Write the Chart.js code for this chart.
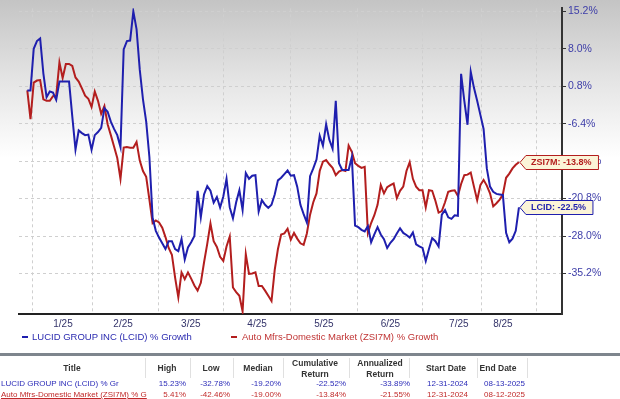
<!DOCTYPE html>
<html>
<head>
<meta charset="utf-8">
<script src="https://cdn.jsdelivr.net/npm/chart.js@4.4.1/dist/chart.umd.min.js"></script>
<style>
  body { margin: 0; width: 620px; height: 399px; overflow: hidden; background: #fff; position: relative;
         font-family: Arial, "Liberation Sans", sans-serif; }
  #wrap { position: absolute; left: 0; top: 0; width: 620px; height: 332px; }
  .t { position: absolute; white-space: nowrap; line-height: 1; }
  .sep { position: absolute; background: #dcdcdc; width: 1px; }
</style>
</head>
<body>
<div id="wrap"><canvas id="chart" width="620" height="332"></canvas></div>
<div id="legend"></div>
<div id="table"></div>

<script>
/* ───── data (% growth since 12-31-2024, one value per trading day) ───── */
var lcidVals = [
  0.0, 0.0, 8.0, 9.5, 10.0, 3.3, -1.3, -0.2, -0.4, -1.8,
  1.7, 1.7, 1.7, 1.7, -5.0, -11.4, -7.7, -8.2, -8.6, -8.5,
  -11.4, -8.6, -8.0, -7.2, -3.4, -4.1, -6.0, -7.4, -8.6, -10.9,
  7.9, 9.5, 9.6, 15.2, 11.8, 4.0, -1.7, -6.0, -12.8, -24.5,
  -27.0, -28.3, -29.4, -30.5, -29.0, -29.0, -30.5, -30.9, -28.6, -32.5,
  -30.2, -29.2, -28.0, -19.3, -24.4, -20.0, -18.4, -19.3, -21.6, -20.5,
  -22.5, -20.4, -17.0, -22.5, -24.6, -21.5, -19.2, -23.0, -15.9, -17.0,
  -16.4, -16.3, -23.3, -21.1, -22.0, -22.6, -22.0, -20.0, -17.3, -16.8,
  -16.1, -15.4, -16.4, -16.3, -18.5, -22.0, -23.8, -25.4, -16.5, -15.0,
  -13.3, -8.7, -10.6, -6.5, -9.5, -11.2, -2.0, -14.0, -15.3, -15.3,
  -15.3, -12.8, -26.0, -26.3, -26.8, -27.1, -26.1, -29.2, -27.7, -26.3,
  -27.7, -28.6, -30.3, -29.3, -28.6, -27.5, -26.5, -27.4, -27.8, -28.3,
  -27.3, -29.6, -30.0, -30.3, -32.8, -30.5, -28.4, -29.0, -30.0, -23.9,
  -23.0, -24.4, -24.7, -24.0, -24.1, 3.2, -2.0, -6.6, 3.6, 0.5,
  -2.0, -4.7, -7.4, -15.0, -18.5, -19.5, -19.9, -20.0, -20.1, -27.4,
  -29.2, -28.5, -27.0, -22.5
];
var zsiVals = [
  0.0, -5.5, 1.5, 1.9, 2.0, -1.7, -2.0, -2.0, -1.1, -1.0,
  5.4, 2.4, 5.1, 5.1, 4.7, 2.5, 1.7, 0.4, -1.0, -1.6,
  -3.2, -0.2, -2.0, -4.5, -3.0, -6.5, -8.6, -10.8, -13.0, -17.0,
  -11.0, -10.9, -11.0, -11.0, -9.9, -13.5, -15.5, -16.6, -21.0, -25.5,
  -25.0, -25.4, -26.4, -28.2, -30.3, -31.6, -36.0, -39.8, -35.0, -36.3,
  -35.0, -36.2, -37.5, -38.5, -37.0, -33.1, -29.5, -25.6, -29.0, -30.1,
  -32.0, -32.8, -30.0, -28.1, -37.9, -38.8, -39.5, -42.5, -31.5, -35.3,
  -35.2, -35.0, -37.6, -37.6, -38.5, -39.5, -40.5, -34.5, -30.5, -27.7,
  -27.5, -26.6, -28.7, -27.4, -28.5, -29.4, -29.7, -27.5, -23.9, -21.5,
  -19.8, -15.5, -13.7, -13.4, -14.2, -14.9, -16.3, -15.6, -15.3, -15.5,
  -10.6, -11.8, -14.0, -14.5, -14.9, -14.7, -27.4, -25.5, -24.0, -22.0,
  -18.2, -19.8, -18.6, -18.2, -17.9, -20.7, -19.3, -18.5, -15.5, -13.8,
  -17.0, -18.5, -19.2, -19.2, -22.5, -19.2, -19.3, -21.2, -23.5, -23.2,
  -21.5, -19.5, -19.3, -19.2, -20.3, -18.0, -16.3, -16.2, -15.8, -18.5,
  -21.1, -18.2, -17.2, -18.3, -19.8, -22.3, -21.7, -21.0, -20.0, -16.8,
  -16.0, -15.0, -14.3, -13.8
];

// x axis: month labels (placed mid-month, in trading-day units) and grid positions
var monthLabels = ['1/25', '2/25', '3/25', '4/25', '5/25', '6/25', '7/25', '8/25'];
var monthLabelPos = [11.1, 29.8, 50.9, 71.5, 92.3, 113.0, 134.3, 148.0];
var monthGridPos = [1.5, 20.4, 40.7, 61.2, 82.0, 102.9, 122.9, 141.5, 158.6];
var yTicks = [-35.2, -28.0, -20.8, -13.6, -6.4, 0.8, 8.0, 15.2];

// summary table
var tableHead = ['Title', 'High', 'Low', 'Median', 'Cumulative|Return', 'Annualized|Return', 'Start Date', 'End Date'];
var lcidRow = ['LUCID GROUP INC (LCID) % Gr', '15.23%', '-32.78%', '-19.20%', '-22.52%', '-33.89%', '12-31-2024', '08-13-2025'];
var zsiRow = ['Auto Mfrs-Domestic Market (ZSI7M) % G', '5.41%', '-42.46%', '-19.00%', '-13.84%', '-21.55%', '12-31-2024', '08-12-2025'];

var BLUE = '#1f1fae';
var RED = '#b31e1e';

function toPoints(vals) {
  return vals.map(function (v, i) { return { x: i, y: v }; });
}

/* ───── plugins ───── */
var bgPlugin = {
  id: 'bg',
  beforeDraw: function (chart) {
    var ctx = chart.ctx;
    var g = ctx.createLinearGradient(0, 0, 0, 158);
    g.addColorStop(0, '#c4c4c4');
    g.addColorStop(0.5, '#e4e4e4');
    g.addColorStop(1, '#ffffff');
    ctx.save();
    ctx.fillStyle = g;
    ctx.fillRect(0, 0, chart.width, chart.height);
    ctx.restore();
  }
};

var tagPlugin = {
  id: 'tags',
  afterDraw: function (chart) {
    var ctx = chart.ctx;
    chart.data.datasets.forEach(function (ds, i) {
      var meta = chart.getDatasetMeta(i);
      var pt = meta.data[meta.data.length - 1];
      var txt = ds.tag + ': ' + ds.data[ds.data.length - 1].y.toFixed(1) + '%';
      ctx.save();
      ctx.font = 'bold 9px Arial, "Liberation Sans", sans-serif';
      var w = ctx.measureText(txt).width;
      var x0 = pt.x + 1, y = Math.round(pt.y) + 0.5, h = 14, bx = x0 + 6, bw = w + 12;
      ctx.beginPath();
      ctx.moveTo(x0, y);
      ctx.lineTo(bx, y - h / 2);
      ctx.lineTo(bx + bw, y - h / 2);
      ctx.lineTo(bx + bw, y + h / 2);
      ctx.lineTo(bx, y + h / 2);
      ctx.closePath();
      ctx.fillStyle = '#fbf4d8';
      ctx.fill();
      ctx.lineWidth = 1;
      ctx.strokeStyle = ds.borderColor;
      ctx.stroke();
      ctx.fillStyle = ds.borderColor;
      ctx.textBaseline = 'middle';
      ctx.fillText(txt, bx + 5, y + 0.5);
      ctx.restore();
    });
  }
};

/* ───── chart ───── */
new Chart(document.getElementById('chart'), {
  type: 'line',
  data: {
    datasets: [
      { label: 'LUCID GROUP INC (LCID) % Growth', tag: 'LCID', data: toPoints(lcidVals),
        borderColor: BLUE, borderWidth: 2, pointRadius: 0, tension: 0 },
      { label: 'Auto Mfrs-Domestic Market (ZSI7M) % Growth', tag: 'ZSI7M', data: toPoints(zsiVals),
        borderColor: RED, borderWidth: 2, pointRadius: 0, tension: 0 }
    ]
  },
  options: {
    responsive: false,
    animation: false,
    layout: { padding: { left: 19, top: 7, right: 0, bottom: 0 } },
    plugins: { legend: { display: false }, tooltip: { enabled: false } },
    scales: {
      x: {
        type: 'linear', min: -2.58, max: 166.4,
        afterBuildTicks: function (s) { s.ticks = monthLabelPos.map(function (v) { return { value: v }; }); },
        afterFit: function (s) { s.height = 18; },
        grid: { display: false, drawTicks: false },
        border: { display: true, color: '#222', width: 2 },
        ticks: {
          padding: 4, autoSkip: false, maxRotation: 0, color: '#34346a',
          font: { size: 10, family: 'Arial, "Liberation Sans", sans-serif' },
          callback: function (v, idx) { return monthLabels[idx]; }
        }
      },
      xg: {
        type: 'linear', position: 'bottom', min: -2.58, max: 166.4,
        afterBuildTicks: function (s) { s.ticks = monthGridPos.map(function (v) { return { value: v }; }); },
        afterFit: function (s) { s.height = 0; },
        grid: { color: '#cfcfcf', drawTicks: false },
        border: { display: false, dash: [3, 3] },
        ticks: { display: false }
      },
      y: {
        position: 'right', min: -43.0, max: 15.8,
        afterBuildTicks: function (s) { s.ticks = yTicks.map(function (v) { return { value: v }; }); },
        afterFit: function (s) { s.width = 58; },
        grid: { color: '#cfcfcf', tickLength: 4, tickColor: '#333', tickWidth: 1 },
        border: { display: true, color: '#333', width: 2, dash: [3, 3] },
        ticks: {
          padding: 2, color: '#3d3da8',
          font: { size: 10.5, family: 'Arial, "Liberation Sans", sans-serif' },
          callback: function (v) { return v.toFixed(1) + '%'; }
        }
      }
    }
  },
  plugins: [bgPlugin, tagPlugin]
});

/* ───── legend + table (HTML text) ───── */
function put(parent, txt, x, y, size, opts) {
  opts = opts || {};
  var d = document.createElement('div');
  d.className = 't';
  d.textContent = txt;
  d.style.fontSize = size + 'px';
  d.style.top = (y - size / 2) + 'px';
  if (opts.align === 'right') { d.style.right = (620 - x) + 'px'; }
  else if (opts.align === 'center') { d.style.left = (x - 100) + 'px'; d.style.width = '200px'; d.style.textAlign = 'center'; }
  else { d.style.left = x + 'px'; }
  if (opts.color) d.style.color = opts.color;
  if (opts.bold) d.style.fontWeight = 'bold';
  if (opts.underline) d.style.textDecoration = 'underline';
  parent.appendChild(d);
  return d;
}
function box(parent, x, y, w, h, color, cls) {
  var d = document.createElement('div');
  d.className = cls || 't';
  d.style.position = 'absolute';
  d.style.left = x + 'px'; d.style.top = y + 'px';
  d.style.width = w + 'px'; d.style.height = h + 'px';
  d.style.background = color;
  parent.appendChild(d);
}

var legend = document.getElementById('legend');
box(legend, 22, 336, 6, 2, BLUE);
put(legend, 'LUCID GROUP INC (LCID) % Growth', 32, 337, 9.5, { color: '#2b2bb0' });
box(legend, 231, 336, 6, 2, RED);
put(legend, 'Auto Mfrs-Domestic Market (ZSI7M) % Growth', 242, 337, 9.5, { color: '#c03434' });

var table = document.getElementById('table');
box(table, 0, 353, 620, 3, '#7e858d');
var headCenters = [72, 167, 211, 258, 315, 380, 446, 498];
var sepX = [145, 190, 233, 283, 349, 409, 477, 527];
sepX.forEach(function (x) { box(table, x, 358, 1, 20, '#e0e0e0', 'sep'); });
tableHead.forEach(function (h, i) {
  var parts = h.split('|');
  if (parts.length === 2) {
    put(table, parts[0], headCenters[i], 363, 8.5, { align: 'center', bold: true, color: '#333' });
    put(table, parts[1], headCenters[i], 374, 8.5, { align: 'center', bold: true, color: '#333' });
  } else {
    put(table, h, headCenters[i], 368, 8.5, { align: 'center', bold: true, color: '#333' });
  }
});
var valueRight = [0, 186, 230, 281, 346, 410, 468, 525];
[[lcidRow, 384, '#2b2bb8', false], [zsiRow, 395, '#c02a2a', true]].forEach(function (r) {
  r[0].forEach(function (v, i) {
    if (i === 0) put(table, v, 1, r[1], 8, { color: r[2], underline: r[3] });
    else put(table, v, valueRight[i], r[1], 8, { color: r[2], align: 'right' });
  });
});
</script>
</body>
</html>
